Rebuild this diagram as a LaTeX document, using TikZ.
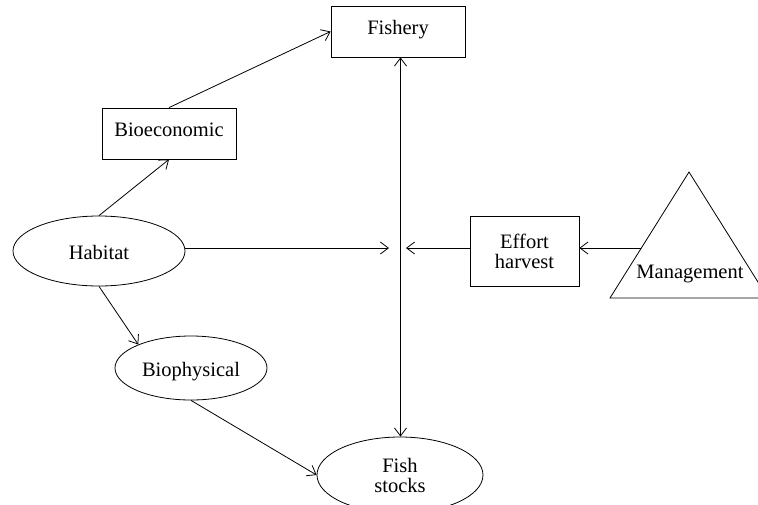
\documentclass[tikz,border=0pt]{standalone}
\usepackage{fontspec}
\setmainfont{Liberation Serif}
\usetikzlibrary{arrows.meta,shapes.geometric}
\begin{document}
\begin{tikzpicture}[x=1pt,y=-1pt,
  txt/.style={font=\fontsize{20.5}{20}\selectfont},
  boxnode/.style={txt,draw,line width=0.8pt,rectangle,inner sep=0pt,text height=11pt,text depth=5pt},
  ellnode/.style={txt,draw,line width=0.8pt,ellipse,inner sep=0pt,text height=16pt,text depth=0pt},
  multinode/.style={txt,draw,line width=0.8pt,inner sep=0pt,align=center},
  conn/.style={line width=0.8pt,-{Straight Barb[length=8pt,width=12pt]}},
  dconn/.style={line width=0.8pt,{Straight Barb[length=8pt,width=12pt]}-{Straight Barb[length=8pt,width=12pt]}}]
\useasboundingbox (0,0) rectangle (758,504);
\node[boxnode,minimum width=134pt,minimum height=51pt] (fishery) at (398,31.5) {Fishery};
\node[boxnode,minimum width=134pt,minimum height=51pt] (bioeco) at (169,133.5) {Bioeconomic};
\node[ellnode,minimum width=172pt,minimum height=70pt] (habitat) at (99,251) {Habitat};
\node[ellnode,minimum width=152pt,minimum height=64pt] (biophys) at (191,368) {Biophysical};
\node[multinode,ellipse,minimum width=166pt,minimum height=76pt] (fish) at (400,475) {Fish\\stocks};
\node[multinode,rectangle,minimum width=109pt,minimum height=70pt] (effort) at (524.5,251) {Effort\\harvest};
\coordinate (apex) at (689,172);
\coordinate (bl) at (610,298);
\coordinate (br) at (768,298);
\draw[line width=0.8pt] (apex) -- (bl) -- (br) -- cycle;
\node[txt,anchor=base,inner sep=0pt] (mgmt) at (690,278) {Management};
\coordinate (hy) at (0,248);
\coordinate (vx) at (400.5,0);
\coordinate (inL) at (389,248);
\coordinate (inR) at (406,248);
\coordinate (mgl) at (641.4,248);
\draw[conn] (bioeco.north) -- (fishery.west);
\draw[conn] (habitat.north) -- (bioeco.south);
\draw[conn] (habitat.east |- hy) -- (inL);
\draw[conn] (effort.west |- hy) -- (inR);
\draw[conn] (mgl) -- (effort.east |- hy);
\draw[dconn] (fishery.south -| vx) -- (fish.north -| vx);
\draw[conn] (habitat.south) -- (biophys.156);
\draw[conn] (biophys.south) -- (fish.west);
\end{tikzpicture}
\end{document}
